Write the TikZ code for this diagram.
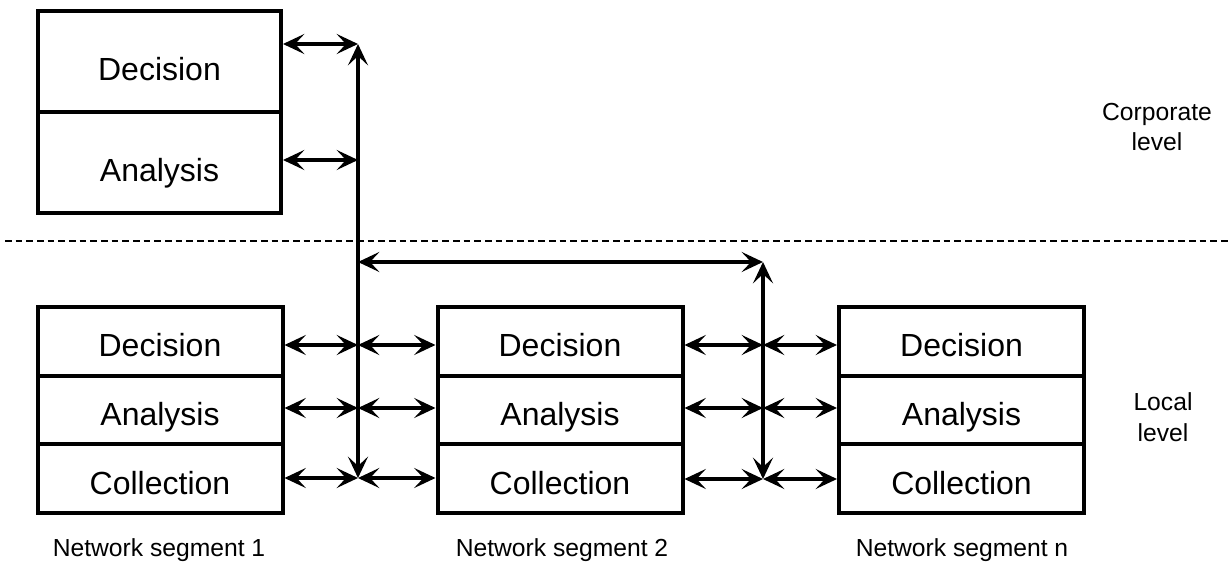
\documentclass[tikz,border=0pt]{standalone}
\usepackage{fontspec}
\setmainfont{Liberation Sans}
\usetikzlibrary{arrows.meta}
\begin{document}
\begin{tikzpicture}[x=0.75pt,y=-0.75pt,
  cell/.style={draw, line width=3pt, inner sep=0pt, minimum width=245*0.75pt,
    minimum height=68.67*0.75pt, text height=23.2pt, text depth=0pt,
    font=\fontsize{24}{28}\selectfont},
  bigcell/.style={cell, minimum width=243*0.75pt, minimum height=101*0.75pt,
    text height=27.8pt},
  lbl/.style={align=center, inner sep=0pt, font=\fontsize{18.5}{23}\selectfont},
  arr/.style={{Stealth[length=16pt, width=15pt, inset=7pt]}-{Stealth[length=16pt, width=15pt, inset=7pt]}, line width=2.5pt},
  dashline/.style={line width=1.2pt, dash pattern=on 5pt off 3pt}]
\useasboundingbox (0,0) rectangle (1229,563);

% corporate level stack
\node[bigcell] (cd) at (159.5,61.5) {Decision};
\node[bigcell] (ca) at (159.5,163) {Analysis};

% level separator
\coordinate (dl) at (5,241);
\coordinate (dr) at (1229,241);
\draw[dashline] (dl) -- (dr);

% local level stacks
\foreach \n/\x in {1/160, 2/560, 3/961.5} {
  \node[cell] (s\n d) at (\x,341.3) {Decision};
  \node[cell] (s\n a) at (\x,410) {Analysis};
  \node[cell] (s\n c) at (\x,478.7) {Collection};
}

% bus junction points
\coordinate (b1t) at (358,44);
\coordinate (b1m) at (358,160);
\coordinate (b1h) at (358,262);
\coordinate (b1d) at (358,345);
\coordinate (b1a) at (358,408);
\coordinate (b1c) at (358,478);
\coordinate (b2h) at (763,262);
\coordinate (b2d) at (763,345);
\coordinate (b2a) at (763,408);
\coordinate (b2c) at (763,479);

% corporate links
\draw[arr] (cd.east |- b1t) -- (b1t);
\draw[arr] (ca.east |- b1m) -- (b1m);

% buses
\draw[arr] (b1t) -- (b1c);
\draw[arr] (b1h) -- (b2h);
\draw[arr] (b2h) -- (b2c);

% local links
\foreach \r in {d,a,c} {
  \draw[arr] (s1\r.east |- b1\r) -- (b1\r);
  \draw[arr] (b1\r) -- (s2\r.west |- b1\r);
  \draw[arr] (s2\r.east |- b2\r) -- (b2\r);
  \draw[arr] (b2\r) -- (s3\r.west |- b2\r);
}

% captions
\node[lbl] (n1) at (159,550) {Network segment 1};
\node[lbl] (n2) at (562,550) {Network segment 2};
\node[lbl] (n3) at (962,550) {Network segment n};
\node[lbl] (corp) at (1157,127) {Corporate\\level};
\node[lbl] (loc) at (1163,417) {Local\\level};
\end{tikzpicture}
\end{document}
